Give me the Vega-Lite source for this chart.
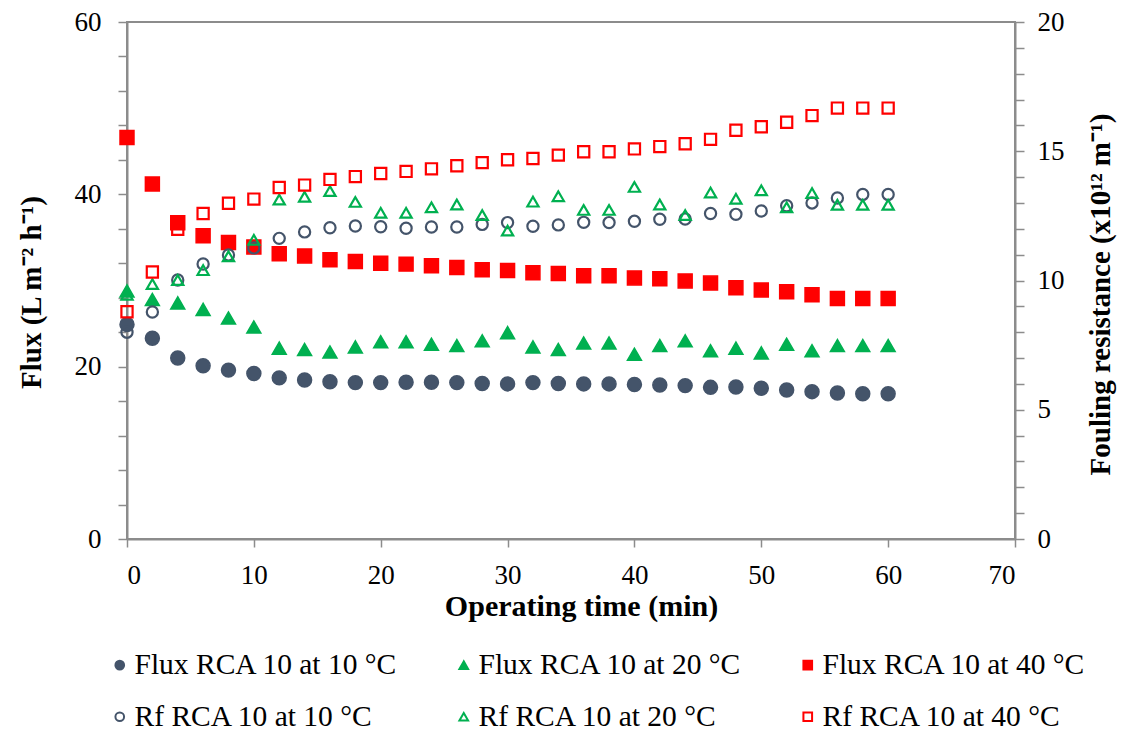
{
  "$schema": "https://vega.github.io/schema/vega-lite/v6.json",
  "width": 888,
  "height": 517,
  "autosize": "none",
  "padding": {"left": 127, "top": 22, "right": 111, "bottom": 192},
  "background": "white",
  "config": {
    "font": "Liberation Serif",
    "view": {"stroke": "#8c8c8c", "strokeWidth": 2},
    "axis": {
      "grid": false,
      "domainColor": "#8c8c8c",
      "domainWidth": 2,
      "tickColor": "#8c8c8c",
      "tickWidth": 1.5,
      "labelFont": "Liberation Serif",
      "labelFontSize": 27,
      "labelColor": "#000000",
      "titleFont": "Liberation Serif",
      "titleFontSize": 29,
      "titleFontWeight": "bold",
      "titleColor": "#000000",
      "labelOverlap": false
    },
    "legend": {
      "labelFont": "Liberation Serif",
      "labelFontSize": 29.5,
      "labelColor": "#000000",
      "labelLimit": 500
    }
  },
  "datasets": {
    "flux": [
      {"t":0,"series":"Flux RCA 10 at 10 °C","v":24.9},{"t":2,"series":"Flux RCA 10 at 10 °C","v":23.3},{"t":4,"series":"Flux RCA 10 at 10 °C","v":21.0},{"t":6,"series":"Flux RCA 10 at 10 °C","v":20.1},{"t":8,"series":"Flux RCA 10 at 10 °C","v":19.6},{"t":10,"series":"Flux RCA 10 at 10 °C","v":19.2},{"t":12,"series":"Flux RCA 10 at 10 °C","v":18.7},{"t":14,"series":"Flux RCA 10 at 10 °C","v":18.45},{"t":16,"series":"Flux RCA 10 at 10 °C","v":18.25},{"t":18,"series":"Flux RCA 10 at 10 °C","v":18.15},{"t":20,"series":"Flux RCA 10 at 10 °C","v":18.15},{"t":22,"series":"Flux RCA 10 at 10 °C","v":18.2},{"t":24,"series":"Flux RCA 10 at 10 °C","v":18.2},{"t":26,"series":"Flux RCA 10 at 10 °C","v":18.15},{"t":28,"series":"Flux RCA 10 at 10 °C","v":18.05},{"t":30,"series":"Flux RCA 10 at 10 °C","v":18.0},{"t":32,"series":"Flux RCA 10 at 10 °C","v":18.15},{"t":34,"series":"Flux RCA 10 at 10 °C","v":18.05},{"t":36,"series":"Flux RCA 10 at 10 °C","v":18.0},{"t":38,"series":"Flux RCA 10 at 10 °C","v":18.0},{"t":40,"series":"Flux RCA 10 at 10 °C","v":17.93},{"t":42,"series":"Flux RCA 10 at 10 °C","v":17.87},{"t":44,"series":"Flux RCA 10 at 10 °C","v":17.8},{"t":46,"series":"Flux RCA 10 at 10 °C","v":17.6},{"t":48,"series":"Flux RCA 10 at 10 °C","v":17.64},{"t":50,"series":"Flux RCA 10 at 10 °C","v":17.5},{"t":52,"series":"Flux RCA 10 at 10 °C","v":17.3},{"t":54,"series":"Flux RCA 10 at 10 °C","v":17.1},{"t":56,"series":"Flux RCA 10 at 10 °C","v":16.95},{"t":58,"series":"Flux RCA 10 at 10 °C","v":16.85},{"t":60,"series":"Flux RCA 10 at 10 °C","v":16.85},
      {"t":0,"series":"Flux RCA 10 at 20 °C","v":28.8},{"t":2,"series":"Flux RCA 10 at 20 °C","v":27.8},{"t":4,"series":"Flux RCA 10 at 20 °C","v":27.4},{"t":6,"series":"Flux RCA 10 at 20 °C","v":26.65},{"t":8,"series":"Flux RCA 10 at 20 °C","v":25.65},{"t":10,"series":"Flux RCA 10 at 20 °C","v":24.6},{"t":12,"series":"Flux RCA 10 at 20 °C","v":22.15},{"t":14,"series":"Flux RCA 10 at 20 °C","v":22.0},{"t":16,"series":"Flux RCA 10 at 20 °C","v":21.7},{"t":18,"series":"Flux RCA 10 at 20 °C","v":22.3},{"t":20,"series":"Flux RCA 10 at 20 °C","v":22.9},{"t":22,"series":"Flux RCA 10 at 20 °C","v":22.9},{"t":24,"series":"Flux RCA 10 at 20 °C","v":22.6},{"t":26,"series":"Flux RCA 10 at 20 °C","v":22.45},{"t":28,"series":"Flux RCA 10 at 20 °C","v":23.0},{"t":30,"series":"Flux RCA 10 at 20 °C","v":23.95},{"t":32,"series":"Flux RCA 10 at 20 °C","v":22.3},{"t":34,"series":"Flux RCA 10 at 20 °C","v":22.0},{"t":36,"series":"Flux RCA 10 at 20 °C","v":22.75},{"t":38,"series":"Flux RCA 10 at 20 °C","v":22.75},{"t":40,"series":"Flux RCA 10 at 20 °C","v":21.45},{"t":42,"series":"Flux RCA 10 at 20 °C","v":22.45},{"t":44,"series":"Flux RCA 10 at 20 °C","v":23.0},{"t":46,"series":"Flux RCA 10 at 20 °C","v":21.85},{"t":48,"series":"Flux RCA 10 at 20 °C","v":22.15},{"t":50,"series":"Flux RCA 10 at 20 °C","v":21.6},{"t":52,"series":"Flux RCA 10 at 20 °C","v":22.6},{"t":54,"series":"Flux RCA 10 at 20 °C","v":21.85},{"t":56,"series":"Flux RCA 10 at 20 °C","v":22.45},{"t":58,"series":"Flux RCA 10 at 20 °C","v":22.45},{"t":60,"series":"Flux RCA 10 at 20 °C","v":22.45},
      {"t":0,"series":"Flux RCA 10 at 40 °C","v":46.6},{"t":2,"series":"Flux RCA 10 at 40 °C","v":41.2},{"t":4,"series":"Flux RCA 10 at 40 °C","v":36.7},{"t":6,"series":"Flux RCA 10 at 40 °C","v":35.2},{"t":8,"series":"Flux RCA 10 at 40 °C","v":34.4},{"t":10,"series":"Flux RCA 10 at 40 °C","v":33.9},{"t":12,"series":"Flux RCA 10 at 40 °C","v":33.1},{"t":14,"series":"Flux RCA 10 at 40 °C","v":32.85},{"t":16,"series":"Flux RCA 10 at 40 °C","v":32.4},{"t":18,"series":"Flux RCA 10 at 40 °C","v":32.2},{"t":20,"series":"Flux RCA 10 at 40 °C","v":32.0},{"t":22,"series":"Flux RCA 10 at 40 °C","v":31.9},{"t":24,"series":"Flux RCA 10 at 40 °C","v":31.7},{"t":26,"series":"Flux RCA 10 at 40 °C","v":31.5},{"t":28,"series":"Flux RCA 10 at 40 °C","v":31.25},{"t":30,"series":"Flux RCA 10 at 40 °C","v":31.15},{"t":32,"series":"Flux RCA 10 at 40 °C","v":30.9},{"t":34,"series":"Flux RCA 10 at 40 °C","v":30.8},{"t":36,"series":"Flux RCA 10 at 40 °C","v":30.55},{"t":38,"series":"Flux RCA 10 at 40 °C","v":30.55},{"t":40,"series":"Flux RCA 10 at 40 °C","v":30.3},{"t":42,"series":"Flux RCA 10 at 40 °C","v":30.2},{"t":44,"series":"Flux RCA 10 at 40 °C","v":29.95},{"t":46,"series":"Flux RCA 10 at 40 °C","v":29.7},{"t":48,"series":"Flux RCA 10 at 40 °C","v":29.15},{"t":50,"series":"Flux RCA 10 at 40 °C","v":28.9},{"t":52,"series":"Flux RCA 10 at 40 °C","v":28.7},{"t":54,"series":"Flux RCA 10 at 40 °C","v":28.35},{"t":56,"series":"Flux RCA 10 at 40 °C","v":27.9},{"t":58,"series":"Flux RCA 10 at 40 °C","v":27.9},{"t":60,"series":"Flux RCA 10 at 40 °C","v":27.9}
    ],
    "rf": [
      {"t":0,"series":"Rf RCA 10 at 10 °C","v":8.0},{"t":2,"series":"Rf RCA 10 at 10 °C","v":8.78},{"t":4,"series":"Rf RCA 10 at 10 °C","v":10.02},{"t":6,"series":"Rf RCA 10 at 10 °C","v":10.64},{"t":8,"series":"Rf RCA 10 at 10 °C","v":10.99},{"t":10,"series":"Rf RCA 10 at 10 °C","v":11.26},{"t":12,"series":"Rf RCA 10 at 10 °C","v":11.63},{"t":14,"series":"Rf RCA 10 at 10 °C","v":11.88},{"t":16,"series":"Rf RCA 10 at 10 °C","v":12.04},{"t":18,"series":"Rf RCA 10 at 10 °C","v":12.11},{"t":20,"series":"Rf RCA 10 at 10 °C","v":12.08},{"t":22,"series":"Rf RCA 10 at 10 °C","v":12.02},{"t":24,"series":"Rf RCA 10 at 10 °C","v":12.07},{"t":26,"series":"Rf RCA 10 at 10 °C","v":12.07},{"t":28,"series":"Rf RCA 10 at 10 °C","v":12.17},{"t":30,"series":"Rf RCA 10 at 10 °C","v":12.24},{"t":32,"series":"Rf RCA 10 at 10 °C","v":12.1},{"t":34,"series":"Rf RCA 10 at 10 °C","v":12.15},{"t":36,"series":"Rf RCA 10 at 10 °C","v":12.25},{"t":38,"series":"Rf RCA 10 at 10 °C","v":12.24},{"t":40,"series":"Rf RCA 10 at 10 °C","v":12.29},{"t":42,"series":"Rf RCA 10 at 10 °C","v":12.37},{"t":44,"series":"Rf RCA 10 at 10 °C","v":12.38},{"t":46,"series":"Rf RCA 10 at 10 °C","v":12.59},{"t":48,"series":"Rf RCA 10 at 10 °C","v":12.56},{"t":50,"series":"Rf RCA 10 at 10 °C","v":12.69},{"t":52,"series":"Rf RCA 10 at 10 °C","v":12.89},{"t":54,"series":"Rf RCA 10 at 10 °C","v":13.0},{"t":56,"series":"Rf RCA 10 at 10 °C","v":13.19},{"t":58,"series":"Rf RCA 10 at 10 °C","v":13.33},{"t":60,"series":"Rf RCA 10 at 10 °C","v":13.33},
      {"t":0,"series":"Rf RCA 10 at 20 °C","v":9.45},{"t":2,"series":"Rf RCA 10 at 20 °C","v":9.86},{"t":4,"series":"Rf RCA 10 at 20 °C","v":10.02},{"t":6,"series":"Rf RCA 10 at 20 °C","v":10.4},{"t":8,"series":"Rf RCA 10 at 20 °C","v":10.94},{"t":10,"series":"Rf RCA 10 at 20 °C","v":11.57},{"t":12,"series":"Rf RCA 10 at 20 °C","v":13.13},{"t":14,"series":"Rf RCA 10 at 20 °C","v":13.24},{"t":16,"series":"Rf RCA 10 at 20 °C","v":13.46},{"t":18,"series":"Rf RCA 10 at 20 °C","v":13.04},{"t":20,"series":"Rf RCA 10 at 20 °C","v":12.62},{"t":22,"series":"Rf RCA 10 at 20 °C","v":12.62},{"t":24,"series":"Rf RCA 10 at 20 °C","v":12.83},{"t":26,"series":"Rf RCA 10 at 20 °C","v":12.94},{"t":28,"series":"Rf RCA 10 at 20 °C","v":12.53},{"t":30,"series":"Rf RCA 10 at 20 °C","v":11.93},{"t":32,"series":"Rf RCA 10 at 20 °C","v":13.05},{"t":34,"series":"Rf RCA 10 at 20 °C","v":13.26},{"t":36,"series":"Rf RCA 10 at 20 °C","v":12.73},{"t":38,"series":"Rf RCA 10 at 20 °C","v":12.73},{"t":40,"series":"Rf RCA 10 at 20 °C","v":13.62},{"t":42,"series":"Rf RCA 10 at 20 °C","v":12.94},{"t":44,"series":"Rf RCA 10 at 20 °C","v":12.53},{"t":46,"series":"Rf RCA 10 at 20 °C","v":13.4},{"t":48,"series":"Rf RCA 10 at 20 °C","v":13.16},{"t":50,"series":"Rf RCA 10 at 20 °C","v":13.49},{"t":52,"series":"Rf RCA 10 at 20 °C","v":12.83},{"t":54,"series":"Rf RCA 10 at 20 °C","v":13.38},{"t":56,"series":"Rf RCA 10 at 20 °C","v":12.93},{"t":58,"series":"Rf RCA 10 at 20 °C","v":12.93},{"t":60,"series":"Rf RCA 10 at 20 °C","v":12.93},
      {"t":0,"series":"Rf RCA 10 at 40 °C","v":8.79},{"t":2,"series":"Rf RCA 10 at 40 °C","v":10.33},{"t":4,"series":"Rf RCA 10 at 40 °C","v":11.98},{"t":6,"series":"Rf RCA 10 at 40 °C","v":12.59},{"t":8,"series":"Rf RCA 10 at 40 °C","v":12.99},{"t":10,"series":"Rf RCA 10 at 40 °C","v":13.15},{"t":12,"series":"Rf RCA 10 at 40 °C","v":13.6},{"t":14,"series":"Rf RCA 10 at 40 °C","v":13.69},{"t":16,"series":"Rf RCA 10 at 40 °C","v":13.91},{"t":18,"series":"Rf RCA 10 at 40 °C","v":14.02},{"t":20,"series":"Rf RCA 10 at 40 °C","v":14.14},{"t":22,"series":"Rf RCA 10 at 40 °C","v":14.22},{"t":24,"series":"Rf RCA 10 at 40 °C","v":14.32},{"t":26,"series":"Rf RCA 10 at 40 °C","v":14.44},{"t":28,"series":"Rf RCA 10 at 40 °C","v":14.56},{"t":30,"series":"Rf RCA 10 at 40 °C","v":14.67},{"t":32,"series":"Rf RCA 10 at 40 °C","v":14.72},{"t":34,"series":"Rf RCA 10 at 40 °C","v":14.85},{"t":36,"series":"Rf RCA 10 at 40 °C","v":14.98},{"t":38,"series":"Rf RCA 10 at 40 °C","v":14.98},{"t":40,"series":"Rf RCA 10 at 40 °C","v":15.09},{"t":42,"series":"Rf RCA 10 at 40 °C","v":15.18},{"t":44,"series":"Rf RCA 10 at 40 °C","v":15.29},{"t":46,"series":"Rf RCA 10 at 40 °C","v":15.46},{"t":48,"series":"Rf RCA 10 at 40 °C","v":15.81},{"t":50,"series":"Rf RCA 10 at 40 °C","v":15.95},{"t":52,"series":"Rf RCA 10 at 40 °C","v":16.12},{"t":54,"series":"Rf RCA 10 at 40 °C","v":16.38},{"t":56,"series":"Rf RCA 10 at 40 °C","v":16.67},{"t":58,"series":"Rf RCA 10 at 40 °C","v":16.67},{"t":60,"series":"Rf RCA 10 at 40 °C","v":16.67}
    ]
  },
  "layer": [
    {
      "data": {"name": "flux"},
      "mark": {"type": "point", "filled": true, "opacity": 1, "strokeWidth": 1.5, "size": 195},
      "encoding": {
        "x": {
          "field": "t", "type": "quantitative",
          "scale": {"domain": [0, 70], "nice": false},
          "axis": {
            "values": [0, 10, 20, 30, 40, 50, 60, 70],
            "title": "Operating time (min)",
            "titleFontSize": 30,
            "titleX": 454,
            "tickSize": 8,
            "labelPadding": 15,
            "titlePadding": 3,
            "encode": {"ticks": {"update": {"y": {"value": -8}, "y2": {"value": 8}}}}
          }
        },
        "y": {
          "field": "v", "type": "quantitative",
          "scale": {"domain": [0, 60], "nice": false},
          "axis": {
            "orient": "left",
            "values": [0, 4, 8, 12, 16, 20, 24, 28, 32, 36, 40, 44, 48, 52, 56, 60],
            "labelExpr": "datum.value % 20 === 0 ? datum.label : ''",
            "title": "Flux (L m⁻² h⁻¹)",
            "titleY": 270,
            "tickSize": 9,
            "labelPadding": 17,
            "titlePadding": 28,
            "encode": {"ticks": {"update": {"x2": {"signal": "datum.value % 20 === 0 ? -9 : 5"}}}}
          }
        },
        "shape": {
          "field": "series", "type": "nominal",
          "scale": {
            "domain": ["Flux RCA 10 at 10 °C", "Flux RCA 10 at 20 °C", "Flux RCA 10 at 40 °C", "Rf RCA 10 at 10 °C", "Rf RCA 10 at 20 °C", "Rf RCA 10 at 40 °C"],
            "range": ["circle", "triangle-up", "square", "circle", "triangle-up", "square"]
          },
          "legend": {
            "title": null,
            "orient": "none",
            "direction": "horizontal",
            "legendX": -22,
            "legendY": 628,
            "columns": 3,
            "columnPadding": 51,
            "rowPadding": 21,
            "symbolSize": 75,
            "symbolStrokeWidth": 2,
            "labelOffset": 0
          }
        },
        "fill": {
          "field": "series", "type": "nominal",
          "scale": {
            "domain": ["Flux RCA 10 at 10 °C", "Flux RCA 10 at 20 °C", "Flux RCA 10 at 40 °C", "Rf RCA 10 at 10 °C", "Rf RCA 10 at 20 °C", "Rf RCA 10 at 40 °C"],
            "range": ["#44546A", "#00B050", "#FF0000", "transparent", "transparent", "transparent"]
          }
        },
        "stroke": {
          "field": "series", "type": "nominal",
          "scale": {
            "domain": ["Flux RCA 10 at 10 °C", "Flux RCA 10 at 20 °C", "Flux RCA 10 at 40 °C", "Rf RCA 10 at 10 °C", "Rf RCA 10 at 20 °C", "Rf RCA 10 at 40 °C"],
            "range": ["#44546A", "#00B050", "#FF0000", "#44546A", "#00B050", "#FF0000"]
          }
        }
      }
    },
    {
      "data": {"name": "rf"},
      "mark": {"type": "point", "filled": true, "opacity": 1, "strokeWidth": 2.2, "size": 125},
      "encoding": {
        "x": {"field": "t", "type": "quantitative"},
        "y": {
          "field": "v", "type": "quantitative",
          "scale": {"domain": [0, 20], "nice": false},
          "axis": {
            "orient": "right",
            "values": [0, 1, 2, 3, 4, 5, 6, 7, 8, 9, 10, 11, 12, 13, 14, 15, 16, 17, 18, 19, 20],
            "labelExpr": "datum.value % 5 === 0 ? datum.label : ''",
            "title": "Fouling resistance (x10¹² m⁻¹)",
            "titleAngle": 270,
            "titleY": 272,
            "tickSize": 9,
            "labelPadding": 13,
            "titlePadding": 51,
            "encode": {"ticks": {"update": {"x2": {"signal": "datum.value % 5 === 0 ? 9 : -8"}}}}
          }
        },
        "shape": {"field": "series", "type": "nominal"},
        "fill": {"field": "series", "type": "nominal"},
        "stroke": {"field": "series", "type": "nominal"}
      }
    }
  ],
  "resolve": {"scale": {"y": "independent"}}
}
